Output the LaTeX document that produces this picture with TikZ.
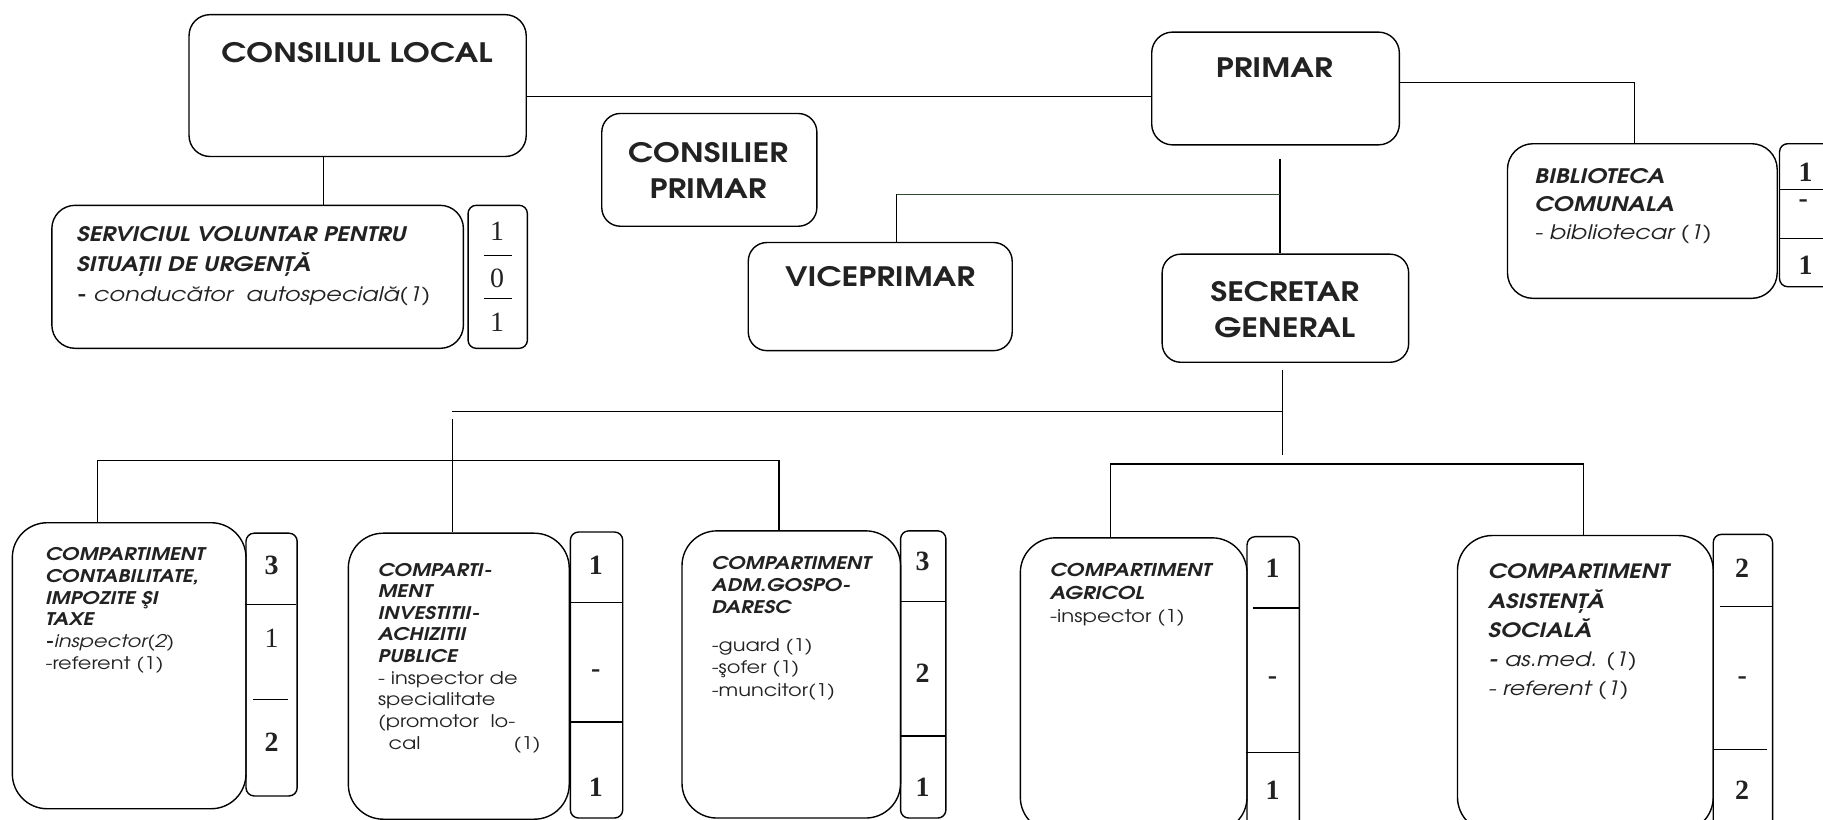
\documentclass[tikz,border=0pt]{standalone}
\usepackage{fontspec}
\setmainfont{texgyreadventor}[Extension=.otf, UprightFont=*-regular, BoldFont=*-bold, ItalicFont=*-italic, BoldItalicFont=*-bolditalic, FakeStretch=1.2]
\newfontfamily\numfont{Liberation Serif}
\definecolor{txt}{HTML}{222222}
\definecolor{lgreen}{HTML}{2F4A2F}
\newcommand\hd[1]{{\bfseries\itshape #1}}
\begin{document}
\begin{tikzpicture}[x=1pt,y=-1pt,
  ln/.style={draw=black, line width=1.1pt},
  gln/.style={draw=lgreen, line width=1.1pt},
  box/.style={draw=black, line width=1.2pt, anchor=north west, inner sep=0pt, rounded corners=#1},
  box/.default=18pt,
  title/.style={font=\bfseries\fontsize{23}{31}\selectfont, text=txt, align=center, inner sep=0pt},
  blk/.style={anchor=north west, inner sep=0pt, align=left, text=txt},
  num/.style={font=\numfont\bfseries\fontsize{24}{24}\selectfont, text=txt, inner sep=0pt},
  numr/.style={font=\numfont\fontsize{24}{24}\selectfont, text=txt, inner sep=0pt}
]
\useasboundingbox (0,0) rectangle (1568,705);
\clip (0,0) rectangle (1568,705);
\fill[white] (0,0) rectangle (1568,705);

% top boxes
\node[box=18pt, minimum width=290pt, minimum height=122pt] (cl) at (162,12) {};
\node[title] (clt) at (307,45) {CONSILIUL LOCAL};
\node[box=18pt, minimum width=213pt, minimum height=97pt] (primar) at (990,27) {};
\node[title] (primart) at (1096,58) {PRIMAR};
\node[box=16pt, minimum width=185pt, minimum height=97pt] (cons) at (517,97) {};
\node[title] (const) at (609,147) {CONSILIER\\PRIMAR};
\node[box=16pt, minimum width=227pt, minimum height=93pt] (vice) at (643,208) {};
\node[title] (vicet) at (757,238) {VICEPRIMAR};
\node[box=16pt, minimum width=212pt, minimum height=93pt] (sec) at (999,218) {};
\node[title] (sect) at (1105,266) {SECRETAR\\GENERAL};

% serviciul voluntar
\node[box=20pt, minimum width=354pt, minimum height=123pt] (serv) at (44,176) {};
\node[blk, font=\fontsize{17.2}{25.5}\selectfont] (servt) at (66,195)
  {\hd{SERVICIUL VOLUNTAR PENTRU}\\ \hd{SITUAȚII DE URGENȚĂ}\\ \textbf{-} \textit{conducător~ autospecială(1)}};
\node[box=7pt, minimum width=51pt, minimum height=123pt] (servc) at (402,176) {};
\node[numr] (s1) at (427.5,199) {1};
\draw[line width=1pt] (416,220) -- (440,220);
\node[numr] (s2) at (427.5,239) {0};
\draw[line width=1pt] (416,257) -- (440,257);
\node[numr] (s3) at (427.5,277) {1};

% biblioteca
\node[box=22pt, minimum width=232pt, minimum height=133pt] (bib) at (1296,123) {};
\node[blk, font=\fontsize{17.2}{24}\selectfont] (bibt) at (1320,145)
  {\hd{BIBLIOTECA}\\ \hd{COMUNALA}\\ \textit{- bibliotecar (1)}};
\node[box=7pt, minimum width=70pt, minimum height=123pt] (bibc) at (1530,123) {};
\draw[line width=1pt] (1530,163) -- (1600,163);
\draw[line width=1pt] (1530,205) -- (1600,205);
\node[num] (b1) at (1553,148) {1};
\node[num] (b2) at (1551,175) {-};
\node[num] (b3) at (1553,228) {1};

% bottom row
\node[box=30pt, minimum width=201pt, minimum height=246pt] (cont) at (10,449) {};
\node[blk, font=\fontsize{15}{18.6}\selectfont] (contt) at (39,471)
  {\hd{COMPARTIMENT}\\ \hd{CONTABILITATE,}\\ \hd{IMPOZITE ŞI}\\ \hd{TAXE}\\ \textbf{-}\textit{inspector(2)}\\ -referent (1)};
\node[box=7pt, minimum width=44pt, minimum height=226pt] (contc) at (211,458) {};
\draw[line width=1pt] (211,520) -- (255,520);
\draw[line width=1pt] (218,602) -- (248,602);
\node[num] (c1) at (233.5,486) {3};
\node[numr] (c2) at (233.5,549) {1};
\node[num] (c3) at (233.5,638) {2};

\node[box=30pt, minimum width=190pt, minimum height=246pt] (inv) at (299,458) {};
\node[blk, font=\fontsize{15}{18.6}\selectfont] (invt) at (325,484)
  {\hd{COMPARTI-}\\ \hd{MENT}\\ \hd{INVESTITII-}\\ \hd{ACHIZITII}\\ \hd{PUBLICE}\\ - inspector de\\ specialitate\\ (promotor~ lo-\\ \hspace*{9pt}cal\hspace{80pt}(1)};
\node[box=7pt, minimum width=45pt, minimum height=246pt] (invc) at (490,457) {};
\draw[line width=1pt] (490,518) -- (535,518);
\draw[line width=1pt] (490,621) -- (535,621);
\node[num] (i1) at (512.5,486) {1};
\node[num] (i2) at (512.5,579) {-};
\node[num] (i3) at (512.5,677) {1};

\node[box=30pt, minimum width=188pt, minimum height=247pt] (adm) at (586,456) {};
\node[blk, font=\fontsize{15}{19.3}\selectfont] (admt) at (612,478)
  {\hd{COMPARTIMENT}\\ \hd{ADM.GOSPO-}\\ \hd{DARESC}\\[13pt] -guard (1)\\ -şofer (1)\\ -muncitor(1)};
\node[box=7pt, minimum width=39pt, minimum height=247pt] (admc) at (774,456) {};
\draw[line width=1pt] (774,517) -- (813,517);
\draw[line width=1pt] (774,633) -- (813,633);
\node[num] (a1) at (793.5,483) {3};
\node[num] (a2) at (793.5,579) {2};
\node[num] (a3) at (793.5,677) {1};

\node[box=30pt, minimum width=195pt, minimum height=253pt] (agr) at (877,462) {};
\node[blk, font=\fontsize{15.2}{20}\selectfont] (agrt) at (903,484)
  {\hd{COMPARTIMENT}\\ \hd{AGRICOL}\\ -inspector (1)};
\node[box=7pt, minimum width=45pt, minimum height=251pt] (agrc) at (1072,461) {};
\draw[line width=1pt] (1078,523) -- (1117,523);
\draw[line width=1pt] (1072,647) -- (1117,647);
\node[num] (g1) at (1094.5,489) {1};
\node[num] (g2) at (1094.5,585) {-};
\node[num] (g3) at (1094.5,680) {1};

\node[box=30pt, minimum width=220pt, minimum height=255pt] (asis) at (1253,460) {};
\node[blk, font=\fontsize{17}{25}\selectfont] (asist) at (1280,485)
  {\hd{COMPARTIMENT}\\ \hd{ASISTENȚĂ}\\ \hd{SOCIALĂ}\\ \textit{\textbf{-} as.med. (1)}\\ \textit{- referent (1)}};
\node[box=7pt, minimum width=51pt, minimum height=253pt] (asisc) at (1473,459) {};
\draw[line width=1pt] (1479,522) -- (1524,522);
\draw[line width=1pt] (1473,645) -- (1520,645);
\node[num] (h1) at (1498.5,489) {2};
\node[num] (h2) at (1498.5,585) {-};
\node[num] (h3) at (1498.5,680) {2};

% connectors
\coordinate (j0) at (0,83);
\draw[ln] (cl.east |- j0) -- (primar.west |- j0);
\coordinate (j1) at (1406,71);
\draw[ln] (primar.east |- j1) -- (j1) -- (j1 |- bib.north);
\coordinate (j2) at (278,0);
\draw[ln] (j2 |- cl.south) -- (j2 |- serv.north);
\coordinate (j3) at (1101,137);
\draw[ln] (j3) -- (j3 |- sec.north);
\coordinate (j4) at (1101,167);
\coordinate (j5) at (771,167);
\draw[gln] (j4) -- (j5);
\draw[ln] (j5) -- (j5 |- vice.north);
\coordinate (j6) at (1103,318);
\coordinate (j7) at (1103,391);
\draw[ln] (j6) -- (j7);
\coordinate (j8) at (1103,354);
\coordinate (j9) at (389,354);
\draw[ln] (j8) -- (j9);
\coordinate (j10) at (389,360);
\draw[ln] (j10) -- (j10 |- inv.north);
\coordinate (j11) at (84,396);
\coordinate (j12) at (670,396);
\draw[ln] (j11 |- cont.north) -- (j11) -- (j12) -- (j12 |- adm.north);
\coordinate (j13) at (955,399);
\coordinate (j14) at (1362,399);
\draw[ln] (j13 |- agr.north) -- (j13) -- (j14) -- (j14 |- asis.north);
\end{tikzpicture}
\end{document}
